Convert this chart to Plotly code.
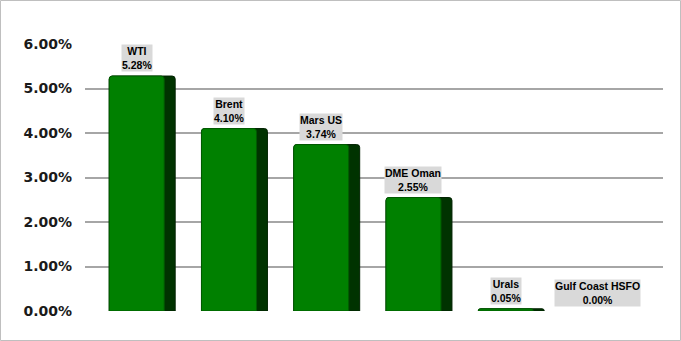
import plotly.graph_objects as go

categories = ["WTI", "Brent", "Mars US", "DME Oman", "Urals", "Gulf Coast HSFO"]
values = [5.28, 4.10, 3.74, 2.55, 0.05, 0.00]
tick_vals = [0, 1, 2, 3, 4, 5, 6]
tick_text = ["0.00%", "1.00%", "2.00%", "3.00%", "4.00%", "5.00%", "6.00%"]

W, H = 681, 341
L, R, T, B = 85, 18, 44, 30
pw, ph = W - L - R, H - T - B

x_idx = list(range(len(categories)))
edge_w = [1 if v > 0 else 0 for v in values]

fig = go.Figure()
# dark side (depth)
fig.add_trace(go.Bar(
    x=x_idx, y=values, width=0.715, offset=-0.3575,
    marker=dict(color="#003300", line=dict(color="#002200", width=edge_w), cornerradius=3),
    hoverinfo="skip", showlegend=False,
))
# front face
fig.add_trace(go.Bar(
    x=x_idx, y=values, width=0.596, offset=-0.3575,
    marker=dict(color="#008000", line=dict(color="#005a00", width=edge_w), cornerradius=3),
    showlegend=False,
))

for i, (c, v) in enumerate(zip(categories, values)):
    fig.add_annotation(
        x=i - 0.06, y=v, xref="x", yref="y",
        text=f"{c}<br>{v:.2f}%", showarrow=False,
        yanchor="bottom", yshift=4,
        font=dict(family="Liberation Sans, Arial", size=10.5, color="#000000", weight="bold"),
        bgcolor="#d9d9d9", borderpad=0,
    )

fig.add_shape(type="rect", xref="paper", yref="paper",
              x0=(0.5 - L) / pw, x1=1 + (R - 0.5) / pw,
              y0=-(B - 0.5) / ph, y1=1 + (T - 0.5) / ph,
              line=dict(color="#bfbfbf", width=1), layer="below")

fig.update_layout(
    width=W, height=H,
    margin=dict(l=L, r=R, t=T, b=B),
    plot_bgcolor="white", paper_bgcolor="white",
    barmode="overlay",
    xaxis=dict(range=[-0.62, 5.645], showticklabels=False, showgrid=False,
               zeroline=False, showline=False, ticks=""),
    yaxis=dict(range=[0, 6], tickvals=tick_vals, ticktext=tick_text,
               showgrid=True, gridcolor="#a6a6a6", gridwidth=1.5,
               zeroline=False, showline=False, ticks="", ticklabelstandoff=12,
               tickfont=dict(family="DejaVu Sans", size=14, color="#1a1a1a", weight="bold")),
)

fig.write_html("out.html")
